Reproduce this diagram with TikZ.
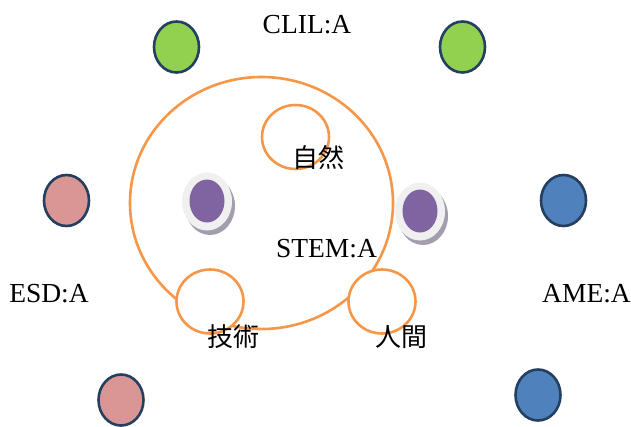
\documentclass[tikz,border=0pt]{standalone}
\usepackage{fontspec}
\setmainfont{Liberation Serif}
\newfontfamily\cjk{Noto Sans CJK JP}
\usetikzlibrary{shapes.geometric}
\definecolor{edgeblue}{HTML}{243F60}
\definecolor{lgreen}{HTML}{92D050}
\definecolor{lpink}{HTML}{D99694}
\definecolor{lblue}{HTML}{4F81BD}
\definecolor{lpurple}{HTML}{8064A2}
\definecolor{lorange}{HTML}{F79646}
\definecolor{shade}{HTML}{A39DAE}
\definecolor{rim}{HTML}{F0F0F0}
\tikzset{
  dot/.style={ellipse, draw=edgeblue, line width=2.6pt, inner sep=0pt, minimum width=45pt, minimum height=51pt},
  gdot/.style={dot, fill=lgreen},
  pdot/.style={dot, fill=lpink},
  bdot/.style={dot, fill=lblue},
  rimshade/.style={ellipse, fill=shade, inner sep=0pt, minimum width=50pt, minimum height=58pt},
  rimdot/.style={ellipse, fill=rim, inner sep=0pt, minimum width=50pt, minimum height=58pt},
  core/.style={ellipse, fill=lpurple, inner sep=0pt, minimum width=35pt, minimum height=43pt},
  ring/.style={ellipse, draw=lorange, line width=2.6pt, inner sep=0pt},
  smallring/.style={ring, fill=white, minimum width=67pt, minimum height=64pt},
  lbl/.style={inner sep=0pt, font=\fontsize{27.5}{32}\selectfont},
  clbl/.style={inner sep=0pt, font=\cjk\fontsize{26}{30}\selectfont}
}
\begin{document}
\begin{tikzpicture}[x=1pt,y=-1pt]
\useasboundingbox (0,0) rectangle (631,426);
% big circle
\node[ring, minimum width=263pt, minimum height=252pt] (big) at (261.5,203) {};
% small circles
\node[smallring] (nature) at (295.5,137) {};
\node[smallring] (tech) at (210,301.5) {};
\node[smallring] (human) at (382,301.5) {};
% coloured dots
\node[gdot] (g1) at (176.5,47) {};
\node[gdot] (g2) at (462.5,47) {};
\node[pdot] (p1) at (66.5,200.5) {};
\node[pdot] (p2) at (121,400) {};
\node[bdot] (b1) at (563.5,200.5) {};
\node[bdot] (b2) at (538,395) {};
% purple dots with rim and shadow
\node[rimshade] (s1) at (210,206) {};
\node[rimdot] (r1) at (207,201.5) {};
\node[core] (c1) at (207,201) {};
\node[rimshade] (s2) at (423,216) {};
\node[rimdot] (r2) at (420,211.5) {};
\node[core] (c2) at (420,211) {};
% labels
\node[lbl] (clil) at (307,25) {CLIL:A};
\node[lbl] (stem) at (326.5,249) {STEM:A};
\node[lbl] (esd) at (49,294) {ESD:A};
\node[lbl] (ame) at (586.5,294) {AME:A};
\node[clbl] (tnat) at (318.5,157.5) {自然};
\node[clbl] (ttech) at (233.5,337) {技術};
\node[clbl] (thum) at (401,337) {人間};
\end{tikzpicture}
\end{document}
